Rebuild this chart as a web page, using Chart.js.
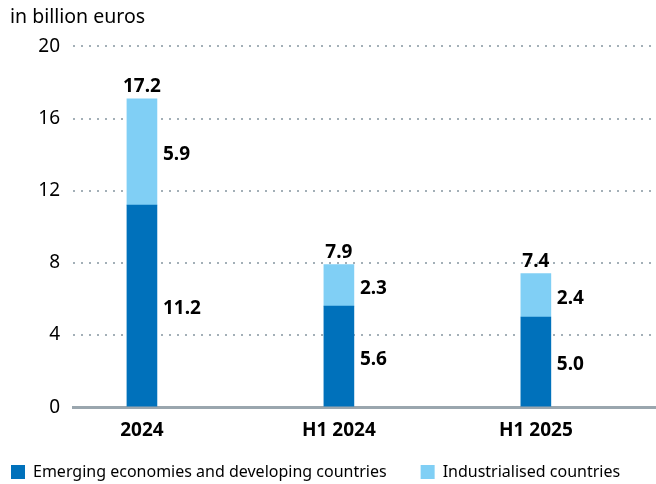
<!DOCTYPE html>
<html>
<head>
<meta charset="utf-8">
<script src="https://cdn.jsdelivr.net/npm/chart.js@4"></script>
<style>
  html, body { margin: 0; padding: 0; background: #fff; }
  #wrap { width: 656px; height: 484px; }
</style>
</head>
<body>
<div id="wrap"><canvas id="chart"></canvas></div>
<script>
// values, in billion euros
const categories = ['2024', 'H1 2024', 'H1 2025'];
const emerging = [11.2, 5.6, 5.0];
const industrialised = [5.9, 2.3, 2.4];
const totals = [17.2, 7.9, 7.4];
const yTicks = [0, 4, 8, 12, 16, 20];

const darkBlue = '#0071bb';
const lightBlue = '#80cff5';
const fontName = '"Noto Sans", sans-serif';

// value labels: segment values to the right of the bar, total above it
const valueLabels = {
    id: 'valueLabels',
    afterDatasetsDraw(chart) {
        const ctx = chart.ctx;
        ctx.save();
        ctx.font = 'bold 19px ' + fontName;
        ctx.fillStyle = '#000';
        chart.data.datasets.forEach((ds, di) => {
            const meta = chart.getDatasetMeta(di);
            meta.data.forEach((bar, i) => {
                const v = ds.data[i].y;
                const mid = (bar.y + bar.base) / 2;
                ctx.textAlign = 'left';
                ctx.textBaseline = 'middle';
                ctx.fillText(v.toFixed(1), bar.x + bar.width / 2 + 6, mid + 3);
            });
        });
        chart.getDatasetMeta(1).data.forEach((bar, i) => {
            ctx.textAlign = 'center';
            ctx.textBaseline = 'alphabetic';
            ctx.fillText(totals[i].toFixed(1), bar.x, bar.y - 7);
        });
        ctx.restore();
    }
};

// legend row under the x axis
const legendRow = {
    id: 'legendRow',
    afterDraw(chart) {
        const ctx = chart.ctx;
        ctx.save();
        ctx.font = '16px ' + fontName;
        ctx.textAlign = 'left';
        ctx.textBaseline = 'middle';
        let x = 11;
        const y = 472;
        chart.data.datasets.forEach((ds) => {
            ctx.fillStyle = ds.backgroundColor;
            ctx.fillRect(x, y - 7, 14, 14);
            ctx.fillStyle = '#000';
            ctx.fillText(ds.label, x + 22, y);
            x += 22 + ctx.measureText(ds.label).width + 34;
        });
        ctx.restore();
    }
};

const toPoints = (arr) => arr.map((v, i) => ({ x: i, y: v }));

const data = {
    datasets: [
        {
            label: 'Emerging economies and developing countries',
            data: toPoints(emerging),
            backgroundColor: darkBlue,
            barThickness: 30
        },
        {
            label: 'Industrialised countries',
            data: toPoints(industrialised),
            backgroundColor: lightBlue,
            barThickness: 30
        }
    ]
};

const config = {
    type: 'bar',
    data: data,
    options: {
        responsive: true,
        maintainAspectRatio: false,
        animation: false,
        layout: {
            padding: { left: 10, right: 0, top: 6, bottom: 30 }
        },
        plugins: {
            title: {
                display: true,
                text: 'in billion euros',
                align: 'start',
                color: '#000',
                font: { family: fontName, size: 19.5, weight: 'normal' },
                padding: { top: 0, bottom: 17 }
            },
            legend: { display: false },
            tooltip: { enabled: false }
        },
        scales: {
            x: {
                type: 'linear',
                stacked: true,
                offset: false,
                min: -0.35,
                max: 2.61,
                ticks: {
                    stepSize: 1,
                    includeBounds: false,
                    color: '#000',
                    font: { family: fontName, size: 19, weight: 'bold' },
                    padding: 12,
                    callback: (v) => categories[v]
                },
                grid: { display: false, drawTicks: false, offset: false },
                border: { display: true, color: '#9aa6ae', width: 3 }
            },
            y: {
                stacked: true,
                min: 0,
                max: 20,
                afterBuildTicks: (axis) => {
                    axis.ticks = yTicks.map((v) => ({ value: v }));
                },
                afterFit: (axis) => { axis.width = 63; },
                ticks: {
                    color: '#000',
                    font: { family: fontName, size: 19 },
                    padding: 13
                },
                grid: {
                    drawTicks: false,
                    lineWidth: 2,
                    color: (c) => c.tick && c.tick.value === 0 ? 'rgba(0,0,0,0)' : '#a3afb7'
                },
                border: { display: false, dash: [2, 6] }
            }
        }
    },
    plugins: [valueLabels, legendRow]
};

new Chart(document.getElementById('chart'), config);
</script>
</body>
</html>
